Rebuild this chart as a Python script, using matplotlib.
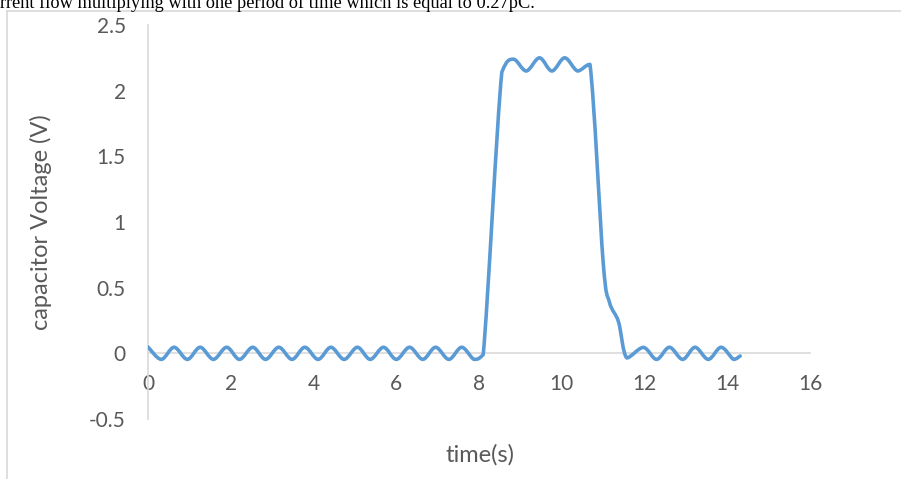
import numpy as np
import matplotlib.pyplot as plt
from matplotlib.path import Path
from matplotlib.patches import PathPatch
from matplotlib.lines import Line2D

# points (peaks, troughs and corners of the curve)
time_s = [0.00, 0.32, 0.63, 0.95, 1.26, 1.58, 1.90, 2.21, 2.53, 2.84,
          3.16, 3.48, 3.79, 4.11, 4.42, 4.74, 5.06, 5.37, 5.69, 6.00,
          6.32, 6.64, 6.95, 7.27, 7.58, 7.88, 8.10, 8.55, 8.83, 9.14,
          9.46, 9.76, 10.07, 10.38, 10.68, 11.00, 11.15, 11.37, 11.57, 11.97,
          12.29, 12.60, 12.92, 13.22, 13.54, 13.85, 14.15, 14.31]
volts = [0.048, -0.046, 0.046, -0.046, 0.046, -0.046, 0.046, -0.046, 0.046, -0.046,
         0.046, -0.046, 0.046, -0.046, 0.046, -0.046, 0.046, -0.046, 0.046, -0.046,
         0.046, -0.046, 0.046, -0.046, 0.046, -0.046, -0.01, 2.14, 2.24, 2.15,
         2.25, 2.15, 2.25, 2.15, 2.20, 0.69, 0.39, 0.24, -0.035, 0.045,
         -0.046, 0.046, -0.046, 0.046, -0.046, 0.046, -0.046, -0.02]

y_ticks = [-0.5, 0, 0.5, 1, 1.5, 2, 2.5]
y_labels = ["-0.5", "0", "0.5", "1", "1.5", "2", "2.5"]
x_ticks = [0, 2, 4, 6, 8, 10, 12, 14, 16]

header = "rrent flow multiplying with one period of time which is equal to 0.27pC."

LINE_C = "#5B9BD5"
AXIS_C = "#D9D9D9"
TEXT_C = "#595959"


def smooth_path(xs, ys):
    # Excel-like smoothed line: Catmull-Rom segments as cubic Beziers,
    # control points kept inside each segment's y range (no overshoot)
    p = np.column_stack([xs, ys]).astype(float)
    n = len(p)
    verts = [p[0]]
    codes = [Path.MOVETO]
    for i in range(n - 1):
        p0 = p[i - 1] if i > 0 else p[i]
        p1 = p[i]
        p2 = p[i + 1]
        p3 = p[i + 2] if i + 2 < n else p[i + 1]
        c1 = p1 + (p2 - p0) / 6.0
        c2 = p2 - (p3 - p1) / 6.0
        lo, hi = min(p1[1], p2[1]), max(p1[1], p2[1])
        c1[1] = np.clip(c1[1], lo, hi)
        c2[1] = np.clip(c2[1], lo, hi)
        verts += [c1, c2, p2]
        codes += [Path.CURVE4] * 3
    return Path(verts, codes)


fig = plt.figure(figsize=(9.01, 4.79), dpi=100)
ax = fig.add_axes([0.1643, 0.1253, 0.7348, 0.8225])

ax.add_patch(PathPatch(smooth_path(time_s, volts), facecolor="none",
                       edgecolor=LINE_C, lw=2.6, capstyle="round",
                       joinstyle="round", zorder=3))

ax.set_xlim(0, 16)
ax.set_ylim(-0.5, 2.5)
for s in ["top", "right"]:
    ax.spines[s].set_visible(False)
ax.spines["left"].set_color(AXIS_C)
ax.spines["left"].set_linewidth(1.2)
ax.spines["bottom"].set_position(("data", 0))
ax.spines["bottom"].set_color(AXIS_C)
ax.spines["bottom"].set_linewidth(1.2)
ax.spines["bottom"].set_zorder(1)

ax.set_yticks(y_ticks)
ax.set_yticklabels(y_labels)
ax.set_xticks(x_ticks)
ax.tick_params(axis="both", length=0, labelsize=15, labelcolor=TEXT_C)
ax.tick_params(axis="y", pad=16)
ax.tick_params(axis="x", pad=15)
for lab in ax.get_xticklabels() + ax.get_yticklabels():
    lab.set_fontfamily("Lato")

fig.text(0.533, 0.05, "time(s)", ha="center", va="center",
         fontsize=17, color=TEXT_C, family="Lato")
fig.text(0.045, 0.537, "capacitor Voltage (V)", ha="center", va="center",
         rotation=90, fontsize=17, color=TEXT_C, family="Lato")

# page frame and cut-off line of text above the chart
fig.add_artist(Line2D([7 / 901, 1], [1 - 10.5 / 479, 1 - 10.5 / 479],
                      color=AXIS_C, lw=1.2))
fig.add_artist(Line2D([7 / 901, 7 / 901], [0, 1 - 10.5 / 479],
                      color=AXIS_C, lw=1.2))
fig.text(0.0, 1 - 8.5 / 479, header, ha="left", va="baseline",
         fontsize=13.2, family="Liberation Serif", color="black")

fig.savefig("out.png", dpi=100)
